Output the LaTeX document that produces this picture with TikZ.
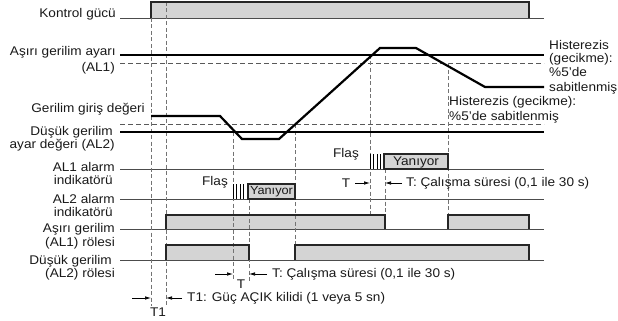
\documentclass[tikz,border=0pt]{standalone}
\usepackage{fontspec}
\setmainfont{Liberation Sans}[FakeStretch=1.08]
\usetikzlibrary{arrows.meta}
\definecolor{boxgray}{HTML}{D4D4D4}
\newcommand{\fsz}{\fontsize{12.6}{13.6}\selectfont}
\begin{document}
\begin{tikzpicture}[x=1pt,y=-1pt,
  lbl/.style={font=\fsz, inner sep=0pt, text=black!90},
  baseln/.style={draw=black!70, line width=0.8pt},
  setln/.style={draw=black, line width=2.2pt},
  hyst/.style={draw=black!65, line width=0.8pt, dash pattern=on 5pt off 3pt},
  vdash/.style={draw=black!55, line width=0.7pt, dash pattern=on 4pt off 2.5pt},
  onfill/.style={fill=boxgray},
  onedge/.style={draw=black!85, line width=1.2pt},
  flash/.style={draw=black, line width=0.9pt},
  meas/.style={draw=black, line width=0.7pt, -{Latex[length=6pt,width=3.5pt]}}
]
\useasboundingbox (0,0) rectangle (618,321);

% left labels
\node[lbl, anchor=base east] (l1) at (116,18) {Kontrol gücü};
\node[lbl, anchor=base east] (l2a) at (116,56) {Aşırı gerilim ayarı};
\node[lbl, anchor=base east] (l2b) at (115,71) {(AL1)};
\node[lbl, anchor=base east] (l3) at (145,112) {Gerilim giriş değeri};
\node[lbl, anchor=base east] (l4a) at (113,135) {Düşük gerilim};
\node[lbl, anchor=base east] (l4b) at (115,148) {ayar değeri (AL2)};
\node[lbl, anchor=base east] (l5a) at (115,171) {AL1 alarm};
\node[lbl, anchor=base east] (l5b) at (113,184) {indikatörü};
\node[lbl, anchor=base east] (l6a) at (115,203) {AL2 alarm};
\node[lbl, anchor=base east] (l6b) at (113,216) {indikatörü};
\node[lbl, anchor=base east] (l7a) at (115,232) {Aşırı gerilim};
\node[lbl, anchor=base east] (l7b) at (115,246) {(AL1) rölesi};
\node[lbl, anchor=base east] (l8a) at (112,264) {Düşük gerilim};
\node[lbl, anchor=base east] (l8b) at (115,277) {(AL2) rölesi};

% base lines
\draw[baseln] (120,18) -- (544,18);
\draw[baseln] (120,169) -- (544,169);
\draw[baseln] (120,199) -- (544,199);
\draw[baseln] (120,229) -- (544,229);
\draw[baseln] (120,260) -- (544,260);

% hysteresis dashed lines
\draw[hyst] (120,63) -- (544,63);
\draw[hyst] (120,124) -- (544,124);

% box fills
\fill[onfill] (151,2) rectangle (529,18);
\fill[onfill] (384,154) rectangle (448,169);
\fill[onfill] (248,184) rectangle (295,199);
\fill[onfill] (166,215) rectangle (385,229);
\fill[onfill] (448,215) rectangle (529,229);
\fill[onfill] (166,245) rectangle (249,260);
\fill[onfill] (295,245) rectangle (529,260);

% vertical dashed guides
\draw[vdash] (151,18) -- (151,306);
\draw[vdash] (166,2) -- (166,306);
\draw[vdash] (233,132) -- (233,281);
\draw[vdash] (249,199) -- (249,281);
\draw[vdash] (295,124) -- (295,245);
\draw[vdash] (370,55) -- (370,215);
\draw[vdash] (385,169) -- (385,215);
\draw[vdash] (448,63) -- (448,215);

% box outlines
\draw[onedge] (151,18) -- (151,2) -- (529,2) -- (529,18);
\draw[onedge] (384,169) rectangle (448,154);
\draw[onedge] (248,199) rectangle (295,184);
\draw[onedge] (166,229) -- (166,215) -- (385,215) -- (385,229);
\draw[onedge] (448,229) -- (448,215) -- (529,215) -- (529,229);
\draw[onedge] (166,260) -- (166,245) -- (249,245) -- (249,260);
\draw[onedge] (295,260) -- (295,245) -- (529,245) -- (529,260);

% flashing ticks
\foreach \x in {370,373.5,377,380.5} \draw[flash] (\x,154) -- (\x,169);
\foreach \x in {233,236.5,240,243.5} \draw[flash] (\x,184) -- (\x,199);
\node[lbl] (y1) at (416,162) {Yanıyor};
\node[lbl, font=\fontsize{11.8}{13}\selectfont] (y2) at (271.5,192) {Yanıyor};
\node[lbl, anchor=base] (f1) at (346,157) {Flaş};
\node[lbl, anchor=base] (f2) at (215,185) {Flaş};

% setting lines
\draw[setln] (120,55) -- (544,55);
\draw[setln] (120,132) -- (544,132);
% input voltage
\draw[setln, line join=miter] (151,116) -- (220,116) -- (242,139) -- (279,139) -- (380,48) -- (416,48) -- (485,87) -- (544,87);

% hysteresis texts
\node[lbl, anchor=base west] (h1) at (549,49) {Histerezis};
\node[lbl, anchor=base west] (h2) at (549,63) {(gecikme):};
\node[lbl, anchor=base west] (h3) at (549,77) {\%5’de};
\node[lbl, anchor=base west] (h4) at (549,91) {sabitlenmiş};
\node[lbl, anchor=base west] (h5) at (449,105) {Histerezis (gecikme):};
\node[lbl, anchor=base west] (h6) at (449,120) {\%5’de sabitlenmiş};

% timing arrows
\coordinate (a1) at (355,183); \coordinate (a2) at (370,183);
\coordinate (a3) at (402,183); \coordinate (a4) at (385,183);
\draw[meas] (a1) -- (a2);
\draw[meas] (a3) -- (a4);
\node[lbl] (tt) at (346,183) {T};
\node[lbl, anchor=west] (tt2) at (406,183) {T: Çalışma süresi (0,1 ile 30 s)};

\coordinate (b1) at (215,274); \coordinate (b2) at (233,274);
\coordinate (b3) at (267,274); \coordinate (b4) at (249,274);
\draw[meas] (b1) -- (b2);
\draw[meas] (b3) -- (b4);
\node[lbl] (tb) at (241,284) {T};
\node[lbl, anchor=west] (tb2) at (272,274) {T: Çalışma süresi (0,1 ile 30 s)};

\coordinate (c1) at (132,298); \coordinate (c2) at (151,298);
\coordinate (c3) at (182,298); \coordinate (c4) at (166,298);
\draw[meas] (c1) -- (c2);
\draw[meas] (c3) -- (c4);
\node[lbl] (t1) at (158,312) {T1};
\node[lbl, anchor=west] (t12) at (187,298) {T1: Güç AÇIK kilidi (1 veya 5 sn)};
\end{tikzpicture}
\end{document}
